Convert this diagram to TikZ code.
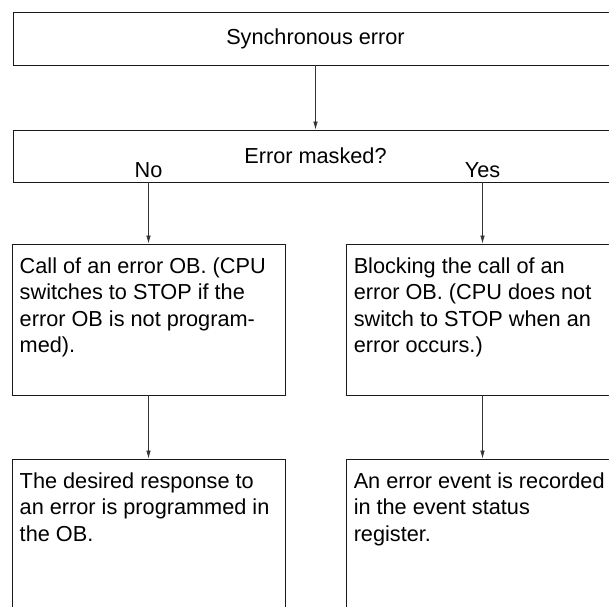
\documentclass[tikz,border=0pt]{standalone}
\usepackage{fontspec}
\setmainfont{Liberation Sans}
\usetikzlibrary{arrows.meta,positioning}
\tikzset{
  box/.style={rectangle,draw=black!90,line width=0.9pt,inner sep=0pt},
  widebox/.style={box,minimum width=605pt,minimum height=53pt},
  stepbox/.style={box,minimum width=273pt,minimum height=151pt},
  lab/.style={font=\fontsize{21.7}{26.5}\selectfont,inner sep=0pt},
  boxtext/.style={lab,anchor=north west,align=left},
  arr/.style={-{Latex[length=8pt,width=4.5pt]},line width=0.6pt,draw=black!80}
}

\begin{document}
\begin{tikzpicture}[x=1pt,y=-1pt]
  \useasboundingbox (0,0) rectangle (609,606);
  \clip (0,0) rectangle (609,606);
  % decision part
  \node[widebox,lab] (sync) at (315.5,38.5) {Synchronous error};
  \node[widebox,lab,minimum height=52pt] (masked) at (315.5,156) {Error masked?};
  % the two branches
  \node[stepbox] (callob) at (148.5,319.5) {};
  \node[stepbox] (blockob) at (482.5,319.5) {};
  \node[stepbox] (response) at (148.5,534.5) {};
  \node[stepbox] (record) at (482.5,534.5) {};
  \node[lab,anchor=base] (no) at ([yshift=5pt]callob.north |- masked.south) {No};
  \node[lab,anchor=base] (yes) at ([yshift=5pt]blockob.north |- masked.south) {Yes};
  \node[boxtext] (callobtxt) at ([shift={(8pt,-14pt)}]callob.north west)
    {Call of an error OB. (CPU\\switches to STOP if the\\error OB is not program-\\med).};
  \node[boxtext] (blockobtxt) at ([shift={(8pt,-14pt)}]blockob.north west)
    {Blocking the call of an\\error OB. (CPU does not\\switch to STOP when an\\error occurs.)};
  \node[boxtext] (responsetxt) at ([shift={(8pt,-14pt)}]response.north west)
    {The desired response to\\an error is programmed in\\the OB.};
  \node[boxtext] (recordtxt) at ([shift={(8pt,-14pt)}]record.north west)
    {An error event is recorded\\in the event status\\register.};
  % connectors
  \draw[arr] (sync) -- (masked);
  \draw[arr] (masked.south -| callob.north) -- (callob);
  \draw[arr] (masked.south -| blockob.north) -- (blockob);
  \draw[arr] (callob) -- (response);
  \draw[arr] (blockob) -- (record);
\end{tikzpicture}
\end{document}
